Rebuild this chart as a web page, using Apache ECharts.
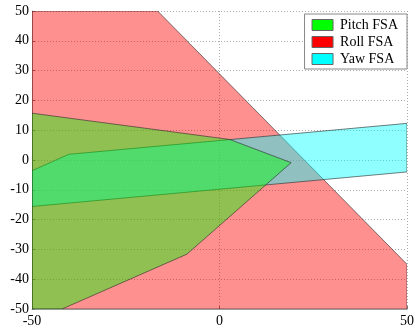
<!DOCTYPE html>
<html>
<head>
<meta charset="utf-8">
<script src="https://cdn.jsdelivr.net/npm/echarts@6/dist/echarts.min.js"></script>
<style>
  html, body { margin: 0; padding: 0; background: #fff; }
  #chart { width: 417px; height: 329px; }
</style>
</head>
<body>
<div id="chart"></div>
<script>
// Feasible-set polygons, vertices as [x, y]
const rollFSA = [[-50, 50], [-16.5, 50], [50, -35], [50, -50], [-50, -50]];
const yawFSA = [[-50, -3.6], [-40.2, 1.9], [50, 12.3], [50, -4.0], [-50, -15.6]];
const pitchFSA = [[-50, 15.7], [2.7, 6.9], [19.1, -0.9], [-8.7, -31.6], [-42, -50], [-50, -50]];

// Axis ranges and ticks
const xTicks = [-50, 0, 50];
const yTicks = [-50, -40, -30, -20, -10, 0, 10, 20, 30, 40, 50];

const seriesNames = ['Roll FSA', 'Yaw FSA', 'Pitch FSA'];
const seriesPolys = [rollFSA, yawFSA, pitchFSA];
const fillColors = ['rgba(255,0,0,0.435)', 'rgba(0,255,255,0.435)', 'rgba(0,255,0,0.435)'];
const legendNames = ['Pitch FSA', 'Roll FSA', 'Yaw FSA'];
const legendColors = ['#00ff00', '#ff0000', '#00ffff'];

const serif = '"Liberation Serif", "DejaVu Serif", serif';

const chart = echarts.init(document.getElementById('chart'), null, { renderer: 'canvas' });

function polygonSeries(name, poly, fill) {
  return {
    name: name,
    type: 'custom',
    clip: true,
    data: [[poly[0][0], poly[0][1]]],
    itemStyle: { color: fill },
    renderItem: function (params, api) {
      return {
        type: 'polygon',
        shape: { points: poly.map(function (p) { return api.coord(p); }) },
        style: { fill: fill, stroke: 'rgba(40,40,40,0.75)', lineWidth: 0.8 },
        silent: true
      };
    }
  };
}

chart.setOption({
  animation: false,
  backgroundColor: '#fff',
  grid: { left: 32, right: 6.5, top: 11, bottom: 20, containLabel: false },
  legend: {
    orient: 'vertical',
    right: 10,
    top: 14,
    backgroundColor: '#fff',
    borderColor: '#888',
    borderWidth: 1,
    padding: [4, 9, 3, 7],
    itemWidth: 21,
    itemHeight: 11,
    itemGap: 3,
    icon: 'rect',
    selectedMode: false,
    textStyle: { fontFamily: serif, fontSize: 14, lineHeight: 13, color: '#000', padding: [0, 0, 0, 2] },
    data: legendNames.map(function (n, i) {
      return { name: n, itemStyle: { color: legendColors[i], opacity: 1, borderColor: '#666', borderWidth: 1 } };
    })
  },
  xAxis: {
    type: 'value',
    min: xTicks[0],
    max: xTicks[xTicks.length - 1],
    interval: xTicks[1] - xTicks[0],
    axisLine: { show: true, onZero: false, lineStyle: { color: '#999', width: 1 } },
    axisTick: { show: true, inside: true, length: 3, lineStyle: { color: '#777' } },
    axisLabel: { fontFamily: serif, fontSize: 14, color: '#000', margin: 5, showMinLabel: true, showMaxLabel: true },
    splitLine: { show: true, lineStyle: { color: '#aaa', type: [1, 2], width: 1 } }
  },
  yAxis: {
    type: 'value',
    min: yTicks[0],
    max: yTicks[yTicks.length - 1],
    interval: yTicks[1] - yTicks[0],
    axisLine: { show: true, onZero: false, lineStyle: { color: '#999', width: 1 } },
    axisTick: { show: true, inside: true, length: 3, lineStyle: { color: '#777' } },
    axisLabel: { fontFamily: serif, fontSize: 14, color: '#000', margin: 3, showMinLabel: true, showMaxLabel: true },
    splitLine: { show: true, lineStyle: { color: '#aaa', type: [1, 2], width: 1 } }
  },
  series: seriesNames.map(function (n, i) { return polygonSeries(n, seriesPolys[i], fillColors[i]); })
});
</script>
</body>
</html>
